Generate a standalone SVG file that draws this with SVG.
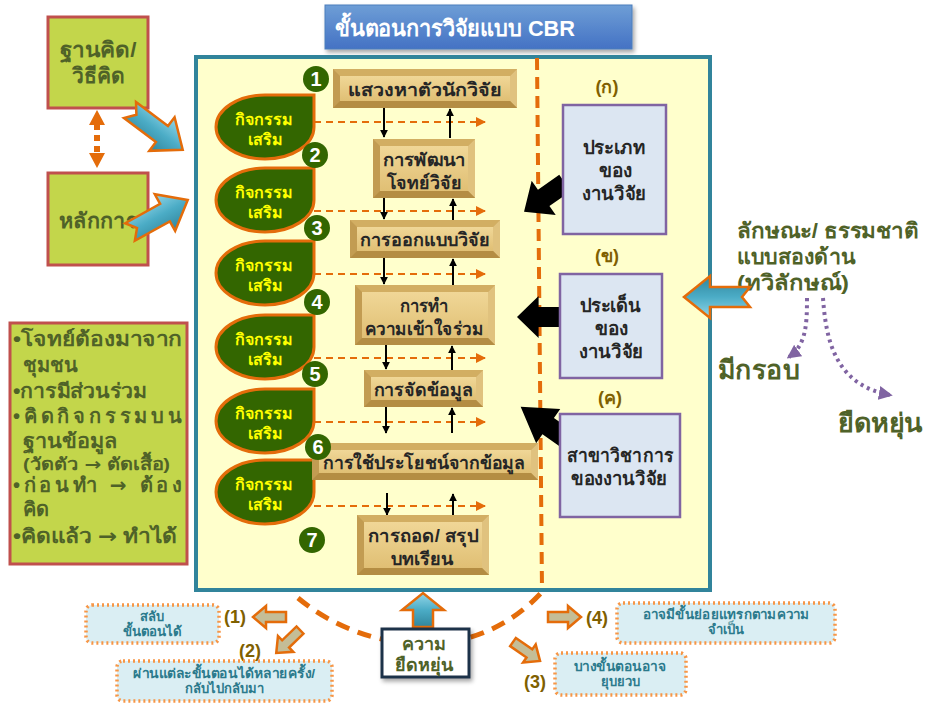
<svg xmlns="http://www.w3.org/2000/svg" width="925" height="706" viewBox="0 0 925 706">
<defs>
<style>
text{font-family:"Liberation Sans","Noto Sans","DejaVu Sans",sans-serif;font-weight:bold}
.ar{font-family:"DejaVu Sans",sans-serif}
.gtxt{fill:#4F6228}
.drop{fill:#336600;stroke:#E46C0A;stroke-width:3}
.droptxt{fill:#FFFF00;font-size:16px;text-anchor:middle}
.num{fill:#336600}
.numtxt{fill:#fff;font-size:20px;text-anchor:middle}
.step{fill:#262626;font-size:18px;text-anchor:middle}
.bt{fill:#D2AE62}.bb{fill:#B48D43}.br{fill:#E0C27E}.bl{fill:#C29C52}
.face{fill:url(#goldFace)}
.hdash{fill:none;stroke:#E46C0A;stroke-width:2;stroke-dasharray:7 5;marker-end:url(#oa)}
.blk{stroke:#000;stroke-width:2;marker-end:url(#ka)}
.pbox{fill:#DCE6F2;stroke:#8064A2;stroke-width:2.5}
.ptxt{fill:#262626;font-size:19px;text-anchor:middle}
.lbl{fill:#7F6000;font-size:18px;text-anchor:middle}
.dbox{fill:#DAEEF3;stroke:#F79646;stroke-width:3.5;stroke-dasharray:2 3}
.dtxt{fill:#2B7A8C;font-size:13px;text-anchor:middle}
.sarr{fill:#C4BD97;stroke:#E46C0A;stroke-width:2.5}
.barr{fill:url(#blueG);stroke:#E46C0A;stroke-width:2.5}
.karr{fill:#000}
.lt{font-size:20px}
</style>
<linearGradient id="goldFace" x1="0" y1="0" x2="0" y2="1">
<stop offset="0" stop-color="#F0D797"/><stop offset="1" stop-color="#E0BF74"/>
</linearGradient>
<linearGradient id="blueG" x1="0" y1="0" x2="0" y2="1">
<stop offset="0" stop-color="#93D6E8"/><stop offset="0.5" stop-color="#4BACC6"/><stop offset="1" stop-color="#31859C"/>
</linearGradient>
<linearGradient id="titleG" x1="0" y1="0" x2="0" y2="1">
<stop offset="0" stop-color="#6E9ED6"/><stop offset="1" stop-color="#4472C4"/>
</linearGradient>
<marker id="oa" viewBox="0 0 10 10" refX="9" refY="5" markerWidth="5" markerHeight="5" orient="auto" markerUnits="strokeWidth">
<path d="M0,0 L10,5 L0,10 Z" fill="#E46C0A"/>
</marker>
<marker id="ka" viewBox="0 0 10 10" refX="9" refY="5" markerWidth="4" markerHeight="4" orient="auto" markerUnits="strokeWidth">
<path d="M0,0 L10,5 L0,10 Z" fill="#000"/>
</marker>
<marker id="pa" viewBox="0 0 10 10" refX="8" refY="5" markerWidth="3.5" markerHeight="3.5" orient="auto" markerUnits="strokeWidth">
<path d="M0,0 L10,5 L0,10 Z" fill="#8064A2"/>
</marker>
<path id="blueArrow" d="M0,-10 H40 V-21 L66,0 L40,21 V10 H0 L8,0 Z"/>
<path id="blackArrow" d="M0,-10 H26 V-21 L50,0 L26,21 V10 H0 Z"/>
<path id="smallArrow" d="M0,-5 H20 V-11 L33,0 L20,11 V5 H0 Z"/>
<filter id="sh" x="-10%" y="-10%" width="130%" height="140%">
<feDropShadow dx="2" dy="3" stdDeviation="2" flood-color="#000" flood-opacity="0.35"/>
</filter>
</defs>

<!-- title -->
<g id="title">
<rect x="325" y="5" width="307" height="44" fill="url(#titleG)" stroke="#4A7EBB" stroke-width="1" filter="url(#sh)"/>
<text x="335" y="36" fill="#fff" font-size="22" textLength="240" lengthAdjust="spacingAndGlyphs">ขั้นตอนการวิจัยแบบ CBR</text>
</g>

<!-- main frame -->
<g id="frame">
<rect x="196" y="57" width="514" height="533" fill="#FFFFCC" stroke="#31849B" stroke-width="4"/>
</g>

<!-- left boxes -->
<g id="thinking">
<rect x="48" y="17" width="100" height="91" fill="#C3D64B" stroke="#C0504D" stroke-width="3"/>
<text class="gtxt" x="98" y="57" font-size="21" text-anchor="middle" textLength="77" lengthAdjust="spacingAndGlyphs">ฐานคิด/</text>
<text class="gtxt" x="98" y="83" font-size="21" text-anchor="middle">วิธีคิด</text>
</g>
<g id="principle">
<rect x="48" y="173" width="100" height="92" fill="#C3D64B" stroke="#C0504D" stroke-width="3"/>
<text class="gtxt" x="98" y="228" font-size="21" text-anchor="middle" textLength="78" lengthAdjust="spacingAndGlyphs">หลักการ</text>
</g>
<g id="principles-list">
<rect x="10" y="323" width="177" height="241" fill="#C3D64B" stroke="#C0504D" stroke-width="3"/>
<g class="gtxt lt">
<text x="13" y="346" textLength="169" lengthAdjust="spacingAndGlyphs">•โจทย์ต้องมาจาก</text>
<text x="23" y="372">ชุมชน</text>
<text x="13" y="398" textLength="134" lengthAdjust="spacingAndGlyphs">•การมีส่วนร่วม</text>
<text x="13" y="423" textLength="169" lengthAdjust="spacing">•คิดกิจกรรมบน</text>
<text x="23" y="448" textLength="94" lengthAdjust="spacingAndGlyphs">ฐานข้อมูล</text>
<text x="23" y="470" font-size="17" textLength="147" lengthAdjust="spacingAndGlyphs">(วัดตัว <tspan class="ar">→</tspan> ตัดเสื้อ)</text>
<text x="13" y="492" textLength="169" lengthAdjust="spacing">•ก่อนทำ <tspan class="ar">→</tspan>  ต้อง</text>
<text x="23" y="516">คิด</text>
<text x="13" y="543" textLength="164" lengthAdjust="spacingAndGlyphs">•คิดแล้ว <tspan class="ar">→</tspan> ทำได้</text>
</g>
</g>

<!-- right text -->
<g id="duality">
<text class="gtxt" x="737" y="238" font-size="21" textLength="182" lengthAdjust="spacingAndGlyphs">ลักษณะ/ ธรรมชาติ</text>
<text class="gtxt" x="737" y="264" font-size="21" textLength="118" lengthAdjust="spacingAndGlyphs">แบบสองด้าน</text>
<text class="gtxt" x="737" y="290" font-size="21" textLength="112" lengthAdjust="spacingAndGlyphs">(ทวิลักษณ์)</text>
</g>
<g id="framed"><text class="gtxt" x="718" y="379" font-size="26" textLength="82" lengthAdjust="spacingAndGlyphs">มีกรอบ</text></g>
<g id="flexible"><text class="gtxt" x="838" y="432" font-size="26" textLength="85" lengthAdjust="spacingAndGlyphs">ยืดหยุ่น</text></g>

<!-- connectors -->
<g id="connectors">
<path d="M537,58 L542,590" fill="none" stroke="#E46C0A" stroke-width="4" stroke-dasharray="12 7"/>
<path d="M298,598 C360,650 470,670 542,592" fill="none" stroke="#E46C0A" stroke-width="5" stroke-dasharray="14 9"/>
<path d="M97,124 V155" stroke="#E46C0A" stroke-width="6" stroke-dasharray="6 5" fill="none"/>
<path d="M89,125 L97,110 L105,125 Z" fill="#E46C0A"/>
<path d="M89,153 L97,168 L105,153 Z" fill="#E46C0A"/>
<use href="#blueArrow" class="barr" transform="translate(130,110) rotate(37)"/>
<use href="#blueArrow" class="barr" transform="translate(130,232) rotate(-29)"/>
<use href="#blueArrow" class="barr" transform="translate(750,297) rotate(180)"/>
<path class="barr" d="M413,627 V610 H402 L423,593 L444,610 H433 V627 Z"/>
<path class="hdash" d="M314,122 H485"/>
<path class="hdash" d="M314,211 H485"/>
<path class="hdash" d="M314,274 H485"/>
<path class="hdash" d="M314,358 H485"/>
<path class="hdash" d="M314,422 H485"/>
<path class="hdash" d="M314,506 H485"/>
<path class="blk" d="M384,108 V137"/><path class="blk" d="M450,138 V109"/>
<path class="blk" d="M384,198 V219"/><path class="blk" d="M453,220 V199"/>
<path class="blk" d="M384,258 V284"/><path class="blk" d="M453,285 V259"/>
<path class="blk" d="M386,345 V369"/><path class="blk" d="M452,370 V346"/>
<path class="blk" d="M386,407 V433"/><path class="blk" d="M452,433 V408"/>
<path class="blk" d="M387,493 V515"/><path class="blk" d="M453,516 V494"/>
<use href="#blackArrow" class="karr" transform="translate(565,183) rotate(145)"/>
<use href="#blackArrow" class="karr" transform="translate(562,317) rotate(180) scale(0.9,1)"/>
<use href="#blackArrow" class="karr" transform="translate(578,447) rotate(215) scale(1.4,1)"/>
<path d="M807,298 C807,325 806,345 789,357" fill="none" stroke="#8064A2" stroke-width="4" stroke-dasharray="3 4" marker-end="url(#pa)"/>
<path d="M823,298 C826,340 835,385 890,395" fill="none" stroke="#8064A2" stroke-width="4" stroke-dasharray="3 4" marker-end="url(#pa)"/>
<use href="#smallArrow" class="sarr" transform="translate(286,617) rotate(180)"/>
<use href="#smallArrow" class="sarr" transform="translate(300,630) rotate(136)"/>
<use href="#smallArrow" class="sarr" transform="translate(513,642) rotate(35)"/>
<use href="#smallArrow" class="sarr" transform="translate(548,617)"/>
</g>

<!-- activity drops -->
<g id="drop1"><path class="drop" d="M314,95 V127 A49,32 0 0 1 265,159 A49,32 0 0 1 216,127 A49,32 0 0 1 265,95 Z"/><text class="droptxt" x="264" y="125">กิจกรรม</text><text class="droptxt" x="265" y="145">เสริม</text></g>
<g id="drop2"><path class="drop" d="M314,168 V200 A49,32 0 0 1 265,232 A49,32 0 0 1 216,200 A49,32 0 0 1 265,168 Z"/><text class="droptxt" x="264" y="198">กิจกรรม</text><text class="droptxt" x="265" y="218">เสริม</text></g>
<g id="drop3"><path class="drop" d="M314,241 V273 A49,32 0 0 1 265,305 A49,32 0 0 1 216,273 A49,32 0 0 1 265,241 Z"/><text class="droptxt" x="264" y="271">กิจกรรม</text><text class="droptxt" x="265" y="291">เสริม</text></g>
<g id="drop4"><path class="drop" d="M314,315 V347 A49,32 0 0 1 265,379 A49,32 0 0 1 216,347 A49,32 0 0 1 265,315 Z"/><text class="droptxt" x="264" y="345">กิจกรรม</text><text class="droptxt" x="265" y="365">เสริม</text></g>
<g id="drop5"><path class="drop" d="M314,389 V421 A49,32 0 0 1 265,453 A49,32 0 0 1 216,421 A49,32 0 0 1 265,389 Z"/><text class="droptxt" x="264" y="419">กิจกรรม</text><text class="droptxt" x="265" y="439">เสริม</text></g>
<g id="drop6"><path class="drop" d="M314,460 V492 A49,32 0 0 1 265,524 A49,32 0 0 1 216,492 A49,32 0 0 1 265,460 Z"/><text class="droptxt" x="264" y="490">กิจกรรม</text><text class="droptxt" x="265" y="510">เสริม</text></g>

<!-- steps -->
<g id="step1">
<rect class="bl" x="333" y="69" width="184" height="39"/>
<polygon class="bt" points="333,69 517,69 510,76 340,76"/>
<polygon class="br" points="517,69 517,108 510,101 510,76"/>
<polygon class="bb" points="333,108 340,101 510,101 517,108"/>
<rect class="face" x="340" y="76" width="170" height="25"/>
<text class="step" x="425" y="96" textLength="154" lengthAdjust="spacingAndGlyphs">แสวงหาตัวนักวิจัย</text>
</g>
<g id="step2">
<rect class="bl" x="373" y="139" width="102" height="59"/>
<polygon class="bt" points="373,139 475,139 468,146 380,146"/>
<polygon class="br" points="475,139 475,198 468,191 468,146"/>
<polygon class="bb" points="373,198 380,191 468,191 475,198"/>
<rect class="face" x="380" y="146" width="88" height="45"/>
<text class="step" x="424" y="166" textLength="83" lengthAdjust="spacingAndGlyphs">การพัฒนา</text>
<text class="step" x="424" y="189" textLength="75" lengthAdjust="spacingAndGlyphs">โจทย์วิจัย</text>
</g>
<g id="step3">
<rect class="bl" x="350" y="220" width="150" height="38"/>
<polygon class="bt" points="350,220 500,220 493,227 357,227"/>
<polygon class="br" points="500,220 500,258 493,251 493,227"/>
<polygon class="bb" points="350,258 357,251 493,251 500,258"/>
<rect class="face" x="357" y="227" width="136" height="24"/>
<text class="step" x="425" y="246" textLength="130" lengthAdjust="spacingAndGlyphs">การออกแบบวิจัย</text>
</g>
<g id="step4">
<rect class="bl" x="355" y="285" width="140" height="60"/>
<polygon class="bt" points="355,285 495,285 488,292 362,292"/>
<polygon class="br" points="495,285 495,345 488,338 488,292"/>
<polygon class="bb" points="355,345 362,338 488,338 495,345"/>
<rect class="face" x="362" y="292" width="126" height="46"/>
<text class="step" x="424" y="312" textLength="49" lengthAdjust="spacingAndGlyphs">การทำ</text>
<text class="step" x="424" y="335" textLength="118" lengthAdjust="spacingAndGlyphs">ความเข้าใจร่วม</text>
</g>
<g id="step5">
<rect class="bl" x="364" y="370" width="119" height="37"/>
<polygon class="bt" points="364,370 483,370 476,377 371,377"/>
<polygon class="br" points="483,370 483,407 476,400 476,377"/>
<polygon class="bb" points="364,407 371,400 476,400 483,407"/>
<rect class="face" x="371" y="377" width="105" height="23"/>
<text class="step" x="423" y="396" textLength="99" lengthAdjust="spacingAndGlyphs">การจัดข้อมูล</text>
</g>
<g id="step6">
<rect class="bl" x="312" y="443" width="226" height="37"/>
<polygon class="bt" points="312,443 538,443 531,450 319,450"/>
<polygon class="br" points="538,443 538,480 531,473 531,450"/>
<polygon class="bb" points="312,480 319,473 531,473 538,480"/>
<rect class="face" x="319" y="450" width="212" height="23"/>
<text class="step" x="424" y="469" textLength="202" lengthAdjust="spacingAndGlyphs">การใช้ประโยชน์จากข้อมูล</text>
</g>
<g id="step7">
<rect class="bl" x="357" y="515" width="132" height="60"/>
<polygon class="bt" points="357,515 489,515 482,522 364,522"/>
<polygon class="br" points="489,515 489,575 482,568 482,522"/>
<polygon class="bb" points="357,575 364,568 482,568 489,575"/>
<rect class="face" x="364" y="522" width="118" height="46"/>
<text class="step" x="423" y="542" textLength="110" lengthAdjust="spacingAndGlyphs">การถอด/ สรุป</text>
<text class="step" x="422" y="565" textLength="62" lengthAdjust="spacingAndGlyphs">บทเรียน</text>
</g>

<!-- number badges -->
<g id="n1"><circle class="num" cx="316" cy="79" r="13"/><text class="numtxt" x="316" y="86">1</text></g>
<g id="n2"><circle class="num" cx="315" cy="155" r="13"/><text class="numtxt" x="315" y="162">2</text></g>
<g id="n3"><circle class="num" cx="317" cy="228" r="13"/><text class="numtxt" x="317" y="235">3</text></g>
<g id="n4"><circle class="num" cx="317" cy="302" r="13"/><text class="numtxt" x="317" y="309">4</text></g>
<g id="n5"><circle class="num" cx="315" cy="374" r="13"/><text class="numtxt" x="315" y="381">5</text></g>
<g id="n6"><circle class="num" cx="318" cy="447" r="13"/><text class="numtxt" x="318" y="454">6</text></g>
<g id="n7"><circle class="num" cx="312" cy="540" r="13"/><text class="numtxt" x="312" y="547">7</text></g>

<!-- right purple boxes -->
<g id="typeA">
<text class="lbl" x="607" y="93">(ก)</text>
<rect class="pbox" x="563" y="105" width="103" height="129"/>
<text class="ptxt" x="614" y="154" textLength="63" lengthAdjust="spacingAndGlyphs">ประเภท</text>
<text class="ptxt" x="615" y="177">ของ</text>
<text class="ptxt" x="614" y="200" textLength="64" lengthAdjust="spacingAndGlyphs">งานวิจัย</text>
</g>
<g id="typeB">
<text class="lbl" x="607" y="262">(ข)</text>
<rect class="pbox" x="560" y="274" width="102" height="104"/>
<text class="ptxt" x="610" y="312" textLength="61" lengthAdjust="spacingAndGlyphs">ประเด็น</text>
<text class="ptxt" x="611" y="335">ของ</text>
<text class="ptxt" x="611" y="358" textLength="64" lengthAdjust="spacingAndGlyphs">งานวิจัย</text>
</g>
<g id="typeC">
<text class="lbl" x="610" y="404">(ค)</text>
<rect class="pbox" x="560" y="414" width="120" height="103"/>
<text class="ptxt" x="620" y="462" textLength="106" lengthAdjust="spacingAndGlyphs">สาขาวิชาการ</text>
<text class="ptxt" x="619" y="485" textLength="96" lengthAdjust="spacingAndGlyphs">ของงานวิจัย</text>
</g>

<!-- flexibility box -->
<g id="flex">
<rect x="382" y="629" width="87" height="48" fill="#fff" stroke="#1F3049" stroke-width="3" filter="url(#sh)"/>
<text class="gtxt" x="424" y="650" font-size="18" text-anchor="middle">ความ</text>
<text class="gtxt" x="424" y="671" font-size="18" text-anchor="middle">ยืดหยุ่น</text>
</g>

<!-- dotted note boxes -->
<g id="note1">
<text class="lbl" x="235" y="623">(1)</text>
<rect class="dbox" x="86" y="605" width="133" height="38" rx="6"/>
<text class="dtxt" x="152" y="621">สลับ</text>
<text class="dtxt" x="152" y="636" textLength="59" lengthAdjust="spacingAndGlyphs">ขั้นตอนได้</text>
</g>
<g id="note2">
<text class="lbl" x="250" y="657">(2)</text>
<rect class="dbox" x="117" y="661" width="215" height="40" rx="6"/>
<text class="dtxt" x="224" y="678" textLength="182" lengthAdjust="spacingAndGlyphs">ผ่านแต่ละขั้นตอนได้หลายครั้ง/</text>
<text class="dtxt" x="224" y="693">กลับไปกลับมา</text>
</g>
<g id="note3">
<text class="lbl" x="535" y="688">(3)</text>
<rect class="dbox" x="555" y="653" width="131" height="42" rx="6"/>
<text class="dtxt" x="620" y="671" textLength="92" lengthAdjust="spacingAndGlyphs">บางขั้นตอนอาจ</text>
<text class="dtxt" x="620" y="686">ยุบยวบ</text>
</g>
<g id="note4">
<text class="lbl" x="597" y="624">(4)</text>
<rect class="dbox" x="617" y="603" width="218" height="40" rx="6"/>
<text class="dtxt" x="726" y="619" textLength="167" lengthAdjust="spacingAndGlyphs">อาจมีขั้นย่อยแทรกตามความ</text>
<text class="dtxt" x="726" y="634">จำเป็น</text>
</g>
</svg>
